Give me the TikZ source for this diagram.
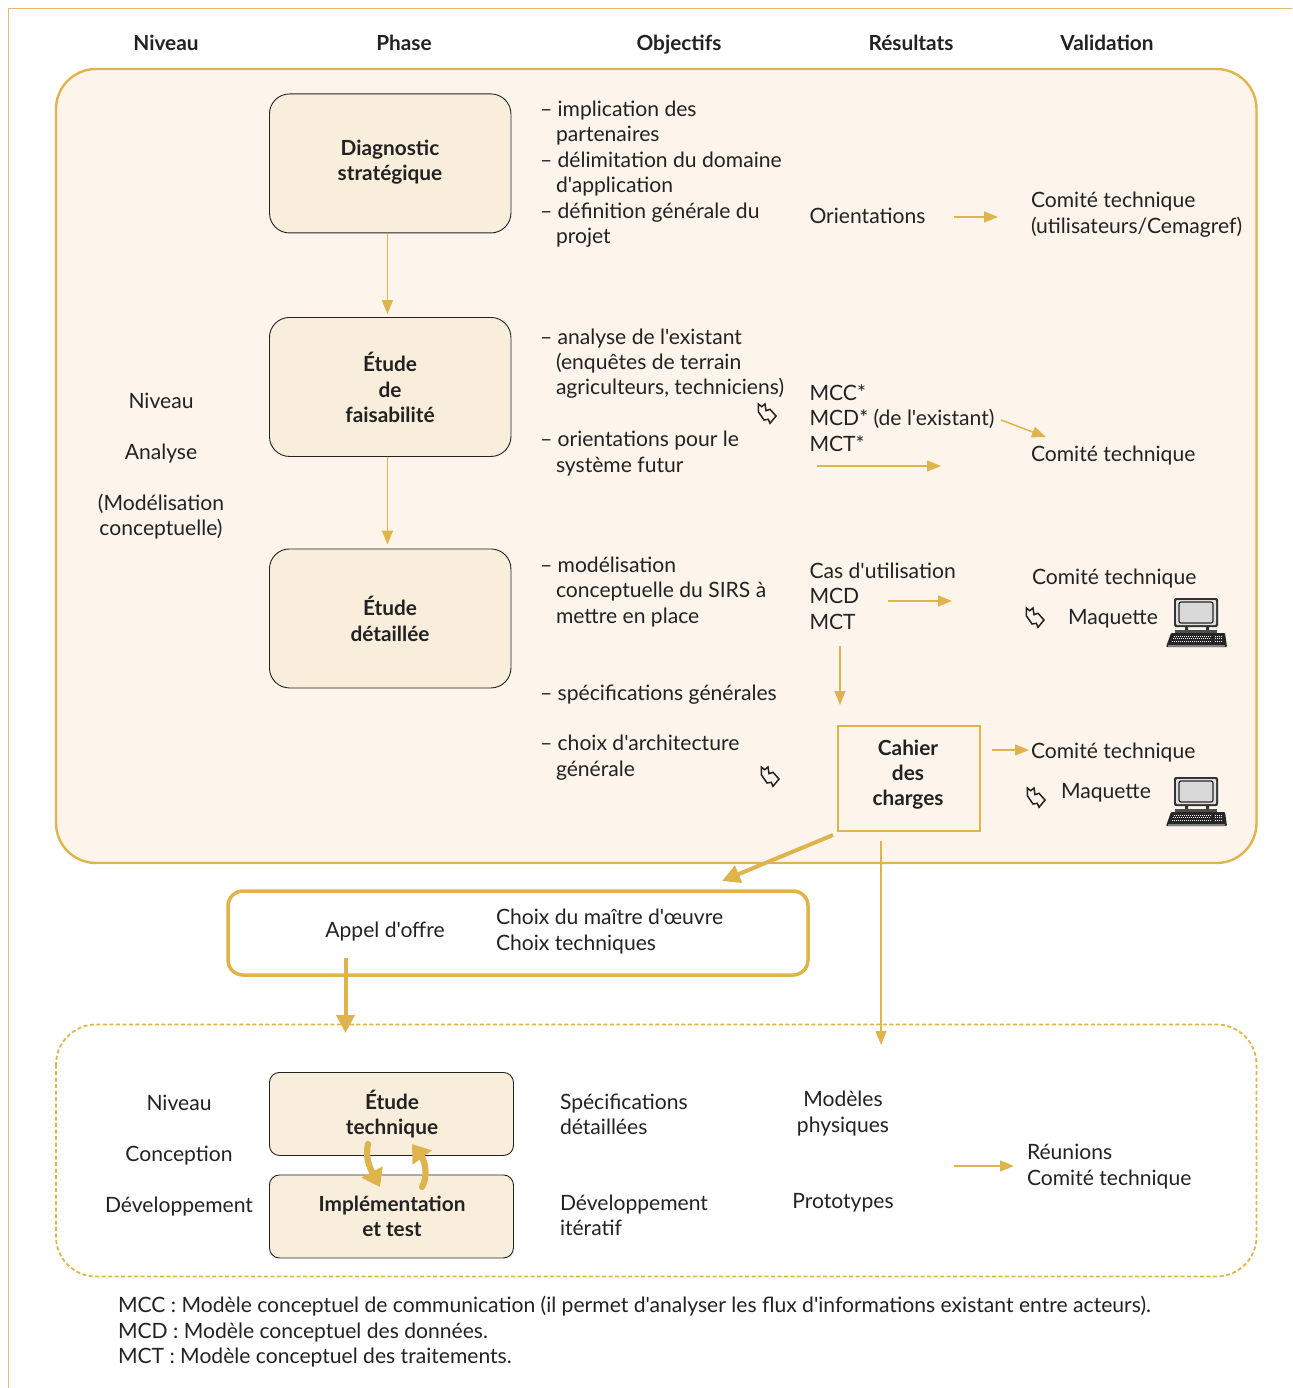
\documentclass[tikz,border=0pt]{standalone}
\usepackage{fontspec}
\newfontfamily\latofont{Lato}
\usetikzlibrary{arrows.meta}
\definecolor{gold}{HTML}{E0B44C}
\definecolor{frameline}{HTML}{E8B873}
\definecolor{panel}{HTML}{FDF5EB}
\definecolor{boxfill}{HTML}{F9EEDC}
\definecolor{ink}{HTML}{222222}
\tikzset{
 x=1pt,y=-1pt,
 txt/.style={inner sep=0pt,outer sep=0pt,text=ink,yshift=-3pt,font=\latofont\fontsize{21.1}{25.4}\selectfont,
   execute at begin node=\strut,execute at end node=\strut},
 lft/.style={txt,anchor=west,align=left},
 ctr/.style={txt,anchor=center,align=center},
 bld/.style={ctr,font=\latofont\fontsize{20.8}{25.4}\selectfont\bfseries},
 phasebox/.style={draw=ink,line width=0.9pt,fill=boxfill,rounded corners=20pt,inner sep=0pt,minimum width=241.5pt,minimum height=139pt,anchor=north west},
 thinarr/.style={draw=gold,line width=1.5pt,-{Triangle[length=14pt,width=11pt,fill=gold]}},
 thickarr/.style={draw=gold,line width=4pt,-{Triangle[length=18pt,width=18pt,fill=gold]}},
 curvarr/.style={draw=gold,line width=6.2pt,line cap=round,-{Triangle[length=17pt,width=23pt,fill=gold]}},
 bentmark/.pic={
   \draw[line width=1.5pt,draw=ink,line join=miter,fill=none]
     (-8.7,-9)--(-5.3,-6.3)--(-2,-9)--(-1,-2.3)--(3,-3.7)--(9,3)--(3,10.3)--(1.3,6.3)--(-3,7)--(-8.7,-1.3)--cycle;
 },
 computer/.pic={
   \fill[black!80,rounded corners=2pt] (-23,-25) rectangle (21,4);
   \fill[white!88!black,rounded corners=1pt] (-21,-23) rectangle (19,2);
   \draw[black!85,line width=1.2pt,fill=black!15,rounded corners=2pt] (-18,-21) rectangle (16,0);
   \fill[black!80] (-12,4) rectangle (-9,8) (9,4) rectangle (12,8);
   \fill[black!70] (-22,7) rectangle (20,10);
   \fill[black!85,rounded corners=1pt] (-26,10)--(28,10)--(30,24)--(-31,24)--cycle;
   \fill[black!50] (-29,21.5) rectangle (28,24);
   \draw[white,line width=0.8pt,dash pattern=on 1pt off 1pt]
     (-23,13)--(14,13) (-24,15.5)--(14,15.5) (-25,18)--(14,18) (18,13)--(26,13) (18,15.5)--(26,15.5) (18,18)--(26,18);
 }
}
\begin{document}
\begin{tikzpicture}
\useasboundingbox (0,0) rectangle (1292,1388);
% page frame
\draw[frameline,line width=1.4pt] (8.5,1388)--(8.5,8.5)--(1292,8.5);
% panels
\draw[gold,line width=2.4pt,fill=panel,rounded corners=40pt] (56,69) rectangle (1256.5,863);
\draw[gold,line width=1.8pt,rounded corners=40pt,dash pattern=on 4pt off 2.5pt] (56,1024.5) rectangle (1256.5,1276.5);
% headers
\node[bld] (hniv) at (166,42) {Niveau};
\node[bld] (hpha) at (404,42) {Phase};
\node[bld] (hobj) at (679,42) {Objectifs};
\node[bld] (hres) at (911,42) {Résultats};
\node[bld] (hval) at (1107,42) {Validation};
% phases
\node[phasebox] (diag) at (269,93.5) {};
\node[phasebox] (fais) at (269,317) {};
\node[phasebox] (deta) at (269,548.5) {};
\node[bld] (ldiag) at (390,161) {Diagnostic\\stratégique};
\node[bld] (lfais) at (390,388.5) {Étude\\de\\faisabilité};
\node[bld] (ldeta) at (390,619.5) {Étude\\détaillée};
% niveau
\node[ctr] (n1) at (161,400.5) {Niveau};
\node[ctr] (n2) at (161,451.5) {Analyse};
\node[ctr] (n3) at (161,515.5) {(Modélisation\\conceptuelle)};
% objectifs
\node[lft] (o1) at (540,173) {– implication des\\\hspace*{16pt}partenaires\\– délimitation du domaine\\\hspace*{16pt}d'application\\– définition générale du\\\hspace*{16pt}projet};
\node[lft] (o2) at (540,362.5) {– analyse de l'existant\\\hspace*{16pt}(enquêtes de terrain\\\hspace*{16pt}agriculteurs, techniciens)};
\node[lft] (o3) at (540,452.5) {– orientations pour le\\\hspace*{16pt}système futur};
\node[lft] (o4) at (540,591) {– modélisation\\\hspace*{16pt}conceptuelle du SIRS à\\\hspace*{16pt}mettre en place};
\node[lft] (o5) at (540,692.5) {– spécifications générales};
\node[lft] (o6) at (540,756.5) {– choix d'architecture\\\hspace*{16pt}générale};
% resultats
\node[lft] (r1) at (809.5,215.5) {Orientations};
\node[lft] (r2) at (809.5,418.5) {MCC*\\MCD* (de l'existant)\\MCT*};
\node[lft] (r3) at (809.5,597) {Cas d'utilisation\\MCD\\MCT};
% validation
\node[lft] (v1) at (1031,213.5) {Comité technique\\(utilisateurs/Cemagref)};
\node[lft] (v2) at (1031,453.5) {Comité technique};
\node[lft] (v3) at (1032,576.5) {Comité technique};
\node[lft] (m1) at (1068,616.5) {Maquette};
\node[lft] (v4) at (1031,750.5) {Comité technique};
\node[lft] (m2) at (1061,790.5) {Maquette};
\pic at (767,413) {bentmark};
\pic at (1035,617) {bentmark};
\pic at (770,776) {bentmark};
\pic at (1036,797) {bentmark};
\pic at (1197,623) {computer};
\pic at (1197,802) {computer};
% cahier
\node[draw=gold,line width=2.7pt,inner sep=0pt,minimum width=142pt,minimum height=105pt] (cdc) at (909,778.5) {};
\node[bld] (lcdc) at (908,773.5) {Cahier\\des\\charges};
% appel
\node[draw=gold,line width=3.5pt,fill=white,rounded corners=15pt,minimum width=580pt,minimum height=84pt,inner sep=0pt] (appel) at (518,933) {};
\node[ctr] (a1) at (385,929.5) {Appel d'offre};
\node[lft] (a2) at (496,930.5) {Choix du maître d'œuvre\\Choix techniques};
% bottom
\node[ctr] (b1) at (179,1102.5) {Niveau};
\node[ctr] (b2) at (179,1153.5) {Conception};
\node[ctr] (b3) at (179,1204.5) {Développement};
\node[phasebox,minimum width=244pt,minimum height=83pt,rounded corners=10pt] (etech) at (269,1072) {};
\node[phasebox,minimum width=244pt,minimum height=83pt,rounded corners=10pt] (impl) at (269,1174.5) {};
\node[bld] (letech) at (392,1113) {Étude\\technique};
\node[bld] (limpl) at (392,1217) {Implémentation\\et test};
\node[lft] (s1) at (560,1115) {Spécifications\\détaillées};
\node[lft] (s2) at (560,1216) {Développement\\itératif};
\node[ctr] (p1) at (843,1112.5) {Modèles\\physiques};
\node[ctr] (p2) at (843,1200.5) {Prototypes};
\node[lft] (w) at (1027,1165.5) {Réunions\\Comité technique};
% legend
\node[lft] (leg) at (118,1331) {MCC : Modèle conceptuel de communication (il permet d'analyser les flux d'informations existant entre acteurs).\\MCD : Modèle conceptuel des données.\\MCT : Modèle conceptuel des traitements.};
% free arrow ends
\coordinate (c1a) at (954,217); \coordinate (c1b) at (998,217);
\coordinate (c2a) at (1001,420); \coordinate (c2b) at (1046,437);
\coordinate (c3a) at (817,466); \coordinate (c3b) at (941,466);
\coordinate (c4a) at (888,601); \coordinate (c4b) at (952,601);
\coordinate (c5a) at (840,646); \coordinate (c5b) at (840,705);
\coordinate (c6a) at (992,750); \coordinate (c6b) at (1029,750);
\coordinate (c7a) at (833,835); \coordinate (c7b) at (722,881);
\coordinate (c8a) at (345.5,958); \coordinate (c8b) at (345.5,1033);
\coordinate (c9a) at (881,841); \coordinate (c9b) at (881,1045);
\coordinate (c10a) at (954,1166); \coordinate (c10b) at (1014,1166);
\draw[thinarr] ([xshift=-2.75pt]diag.south) -- ([xshift=-2.75pt,yshift=3pt]fais.north);
\draw[thinarr] ([xshift=-2.75pt]fais.south) -- ([xshift=-2.75pt,yshift=4pt]deta.north);
\draw[thinarr] (c1a)--(c1b);
\draw[thinarr] (c2a)--(c2b);
\draw[thinarr] (c3a)--(c3b);
\draw[thinarr] (c4a)--(c4b);
\draw[thinarr] (c5a)--(c5b);
\draw[thinarr] (c6a)--(c6b);
\draw[thickarr] (c7a)--(c7b);
\draw[thickarr] (c8a)--(c8b);
\draw[thinarr] (c9a)--(c9b);
\draw[thinarr] (c10a)--(c10b);
% loop arrows
\coordinate (l1a) at (368,1144); \coordinate (l1b) at (380,1187);
\coordinate (l2a) at (422,1187); \coordinate (l2b) at (412,1144);
\draw[curvarr] (l1a) .. controls (365,1158) and (370,1168) .. (l1b);
\draw[curvarr] (l2a) .. controls (429,1175) and (424,1160) .. (l2b);
\end{tikzpicture}
\end{document}
